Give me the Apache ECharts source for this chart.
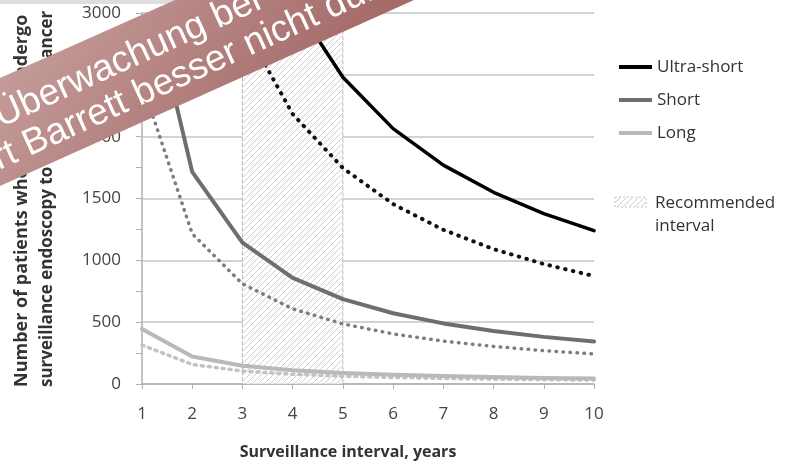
<!DOCTYPE html>
<html>
<head>
<meta charset="utf-8">
<script src="https://cdn.jsdelivr.net/npm/echarts@6/dist/echarts.min.js"></script>
<style>
  html, body { margin: 0; padding: 0; background: #fff; }
  #chart { width: 793px; height: 468px; }
</style>
</head>
<body>
<div id="chart"></div>
<script>
// surveillance interval in years
const years = [1, 2, 3, 4, 5, 6, 7, 8, 9, 10];

// solid lines
const ultraShort = [12400, 6200, 4130, 3100, 2480, 2065, 1770, 1550, 1378, 1240];
const shortSeg   = [3430, 1715, 1143, 858, 686, 572, 490, 429, 381, 343];
const longSeg    = [445, 223, 148, 111, 89, 74, 64, 56, 49, 45];

// dotted lines
const ultraShortDot = [8730, 4365, 2910, 2183, 1746, 1455, 1247, 1091, 970, 873];
const shortDot      = [2430, 1215, 810, 608, 486, 405, 347, 304, 270, 243];
const longDot       = [315, 158, 105, 79, 63, 53, 45, 39, 35, 32];

// recommended interval (years)
const recommended = [3, 5];

const yTicks = [0, 500, 1000, 1500, 2000, 2500, 3000];

const FONT = '"Open Sans", "DejaVu Sans", sans-serif';
const BANNER_FONT = '37px "Liberation Sans", Arial, sans-serif';

// hatch pattern for the recommended interval
const hatch = document.createElement('canvas');
hatch.width = 6; hatch.height = 6;
(function () {
  const c = hatch.getContext('2d');
  c.fillStyle = '#ffffff';
  c.fillRect(0, 0, 6, 6);
  c.strokeStyle = '#cfcfcf';
  c.lineWidth = 1;
  c.beginPath();
  c.moveTo(-1, 7); c.lineTo(7, -1);
  c.moveTo(-1, 1); c.lineTo(1, -1);
  c.moveTo(5, 7); c.lineTo(7, 5);
  c.stroke();
})();

const pairs = vals => years.map((x, i) => [x, vals[i]]);

const solid = (name, vals, color, width) => ({
  name: name,
  type: 'line',
  data: pairs(vals),
  symbol: 'none',
  itemStyle: { color: color },
  lineStyle: { color: color, width: width, cap: 'round', join: 'round' },
  z: 3
});

const dotted = (vals, color, width, dash) => ({
  type: 'line',
  data: pairs(vals),
  symbol: 'none',
  lineStyle: { color: color, width: width, type: dash, cap: 'round' },
  z: 2
});

const chart = echarts.init(document.getElementById('chart'));

const tilt = 24.5 * Math.PI / 180;

chart.setOption({
  backgroundColor: '#ffffff',
  animation: false,
  grid: { left: 142, right: 199, top: 13, bottom: 84 },
  xAxis: {
    type: 'value',
    min: 1, max: 10, interval: 1,
    axisLine: { lineStyle: { color: '#b0b0b0', width: 1.5 } },
    axisTick: { show: true, length: 5, lineStyle: { color: '#b0b0b0' } },
    axisLabel: { color: '#444', fontFamily: FONT, fontSize: 17, margin: 22 },
    splitLine: { show: false }
  },
  yAxis: {
    type: 'value',
    min: yTicks[0], max: yTicks[yTicks.length - 1], interval: 500,
    axisLine: { show: true, lineStyle: { color: '#b0b0b0', width: 1.5 } },
    axisTick: { show: true, length: 6, lineStyle: { color: '#b0b0b0' } },
    minorTick: { show: true, splitNumber: 2, length: 6, lineStyle: { color: '#b0b0b0' } },
    axisLabel: { color: '#444', fontFamily: FONT, fontSize: 17, margin: 21, formatter: v => String(v) },
    splitLine: { show: true, lineStyle: { color: '#c4c4c4', width: 1.5 } }
  },
  legend: {
    data: ['Ultra-short', 'Short', 'Long'],
    orient: 'vertical',
    left: 614, top: 52,
    icon: 'rect',
    itemWidth: 33, itemHeight: 4,
    itemGap: 13,
    textStyle: { color: '#333', fontFamily: FONT, fontSize: 17, lineHeight: 20 }
  },
  series: [
    {
      name: 'Recommended interval',
      type: 'line',
      data: [],
      z: 1,
      markArea: {
        silent: true,
        itemStyle: {
          color: { image: hatch, repeat: 'repeat' },
          borderColor: '#b8b8b8', borderWidth: 1, borderType: 'dashed'
        },
        data: [[{ xAxis: recommended[0], yAxis: 0 }, { xAxis: recommended[1], yAxis: 3000 }]]
      }
    },
    dotted(longDot, '#c2c2c2', 3.5, [2, 5]),
    dotted(shortDot, '#7d7d7d', 3.5, [0.5, 6.5]),
    dotted(ultraShortDot, '#111111', 4, [0.5, 7.5]),
    solid('Long', longSeg, '#b9b9b9', 4),
    solid('Short', shortSeg, '#6e6e6e', 4),
    solid('Ultra-short', ultraShort, '#000000', 3.5)
  ],
  graphic: [
    { type: 'rect', left: 0, top: 0, shape: { width: 400, height: 4 }, style: { fill: '#dedede' }, z: 0 },
    // axis titles
    {
      type: 'text', x: 348, y: 452, z: 5,
      style: { text: 'Surveillance interval, years', font: 'bold 16px ' + FONT, fill: '#333', align: 'center', verticalAlign: 'middle' }
    },
    {
      type: 'text', x: 22, y: 387, rotation: Math.PI / 2, z: 5,
      style: { text: 'Number of patients who need to undergo', font: 'bold 18px ' + FONT, fill: '#333', align: 'left', verticalAlign: 'middle' }
    },
    {
      type: 'text', x: 47, y: 387, rotation: Math.PI / 2, z: 5,
      style: { text: 'surveillance endoscopy to detect one cancer', font: 'bold 17px ' + FONT, fill: '#333', align: 'left', verticalAlign: 'middle' }
    },
    // recommended interval legend entry
    {
      type: 'rect', x: 615, y: 197, z: 5,
      shape: { width: 31, height: 10 },
      style: { fill: { image: hatch, repeat: 'repeat' }, stroke: '#c8c8c8', lineWidth: 1, lineDash: [2, 2] }
    },
    {
      type: 'text', x: 655, y: 192, z: 5,
      style: { text: 'Recommended\ninterval', font: '17px ' + FONT, lineHeight: 23, fill: '#333', align: 'left', verticalAlign: 'top' }
    },
    // banner band
    {
      type: 'polygon', z: 100,
      shape: { points: [[0, 78], [175, 0], [414, 0], [0, 186]] },
      style: {
        fill: {
          type: 'linear', x: 0, y: 0, x2: 0.6, y2: 1,
          colorStops: [{ offset: 0, color: '#c9a4a1' }, { offset: 1, color: '#a56b69' }]
        }
      }
    },
    // banner text
    {
      type: 'group', x: 2, y: 130, rotation: tilt, z: 101,
      children: [
        {
          type: 'text', x: 0, y: -13, z: 101,
          style: { text: 'Überwachung bei', font: BANNER_FONT, fill: '#ffffff', align: 'left', verticalAlign: 'middle' }
        },
        {
          type: 'text', x: -157, y: 25, z: 101,
          style: { text: 'Ultrashort Barrett besser nicht durchführen', font: BANNER_FONT, fill: '#ffffff', align: 'left', verticalAlign: 'middle' }
        }
      ]
    }
  ]
});
</script>
</body>
</html>
